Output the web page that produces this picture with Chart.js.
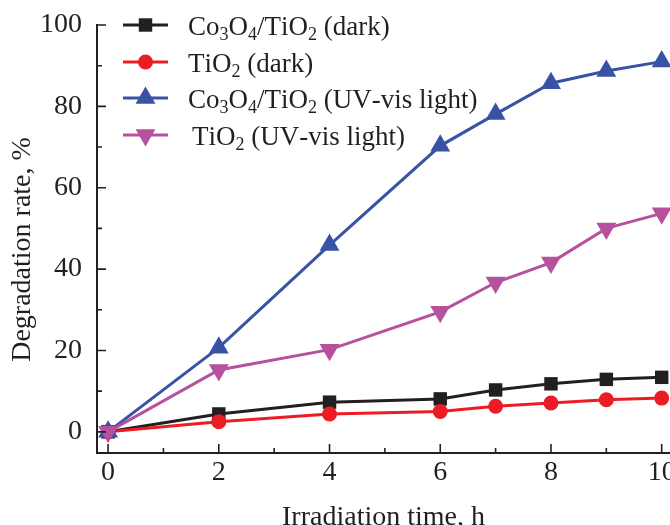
<!DOCTYPE html>
<html><head><meta charset="utf-8">
<script src="https://cdn.jsdelivr.net/npm/chart.js@4/dist/chart.umd.min.js"></script>
<style>html,body{margin:0;padding:0;background:#fff}#wrap{width:670px;height:525px;position:relative;overflow:hidden}</style>
</head><body><div id="wrap"><canvas id="c" width="670" height="525"></canvas></div>
<script>
// ---- data ----
const timeHours  = [0, 2, 4, 6, 7, 8, 9, 10];
const co3o4Dark  = [0, 4.4, 7.3, 8.1, 10.3, 11.8, 12.9, 13.4];
const tio2Dark   = [0, 2.5, 4.4, 5.0, 6.3, 7.1, 7.9, 8.3];
const co3o4Light = [0, 20.7, 45.9, 70.3, 78.1, 85.7, 88.7, 91.0];
const tio2Light  = [0, 15.2, 20.2, 29.5, 36.7, 41.6, 50.0, 53.7];
const seriesLabels = ['Co3O4/TiO2 (dark)', 'TiO2 (dark)', 'Co3O4/TiO2 (UV-vis light)', 'TiO2 (UV-vis light)'];
const xTickValues = [0, 2, 4, 6, 8, 10];
const yTickValues = [0, 20, 40, 60, 80, 100];
const xMinorTicks = [1, 3, 5, 7, 9];
const yMinorTicks = [10, 30, 50, 70, 90];
const xAxisTitle = 'Irradiation time, h';
const yAxisTitle = 'Degradation rate, %';

const FONT = '"Liberation Serif", "Times New Roman", serif';
const colors = ['#231f20', '#ed1c24', '#3953a4', '#b5519d'];
const styles = ['rect', 'circle', 'triangle', 'triangle'];
const radii = [9.5, 7.5, 11.5, 11.5];
const rotations = [0, 0, 0, 180];
const seriesValues = [co3o4Dark, tio2Dark, co3o4Light, tio2Light];

const datasets = seriesValues.map((vals, i) => ({
  label: seriesLabels[i],
  data: timeHours.map((t, k) => ({x: t, y: vals[k]})),
  borderColor: colors[i],
  backgroundColor: colors[i],
  pointBackgroundColor: colors[i],
  pointBorderColor: colors[i],
  pointBorderWidth: 0,
  pointStyle: styles[i],
  pointRadius: radii[i],
  pointRotation: rotations[i],
  borderWidth: 3,
  tension: 0,
  order: 3 - i,
  clip: false
}));

function drawMarker(ctx, style, x, y, r, rot, color) {
  ctx.save();
  ctx.fillStyle = color;
  ctx.translate(x, y);
  ctx.rotate(rot * Math.PI / 180);
  ctx.beginPath();
  if (style === 'rect') {
    const s = r * Math.SQRT1_2;
    ctx.rect(-s, -s, 2 * s, 2 * s);
  } else if (style === 'circle') {
    ctx.arc(0, 0, r, 0, Math.PI * 2);
  } else {
    for (let k = 0; k < 3; k++) {
      const a = k * 2 * Math.PI / 3;
      const px = Math.sin(a) * r, py = -Math.cos(a) * r;
      if (k === 0) ctx.moveTo(px, py); else ctx.lineTo(px, py);
    }
    ctx.closePath();
  }
  ctx.fill();
  ctx.restore();
}

function drawFormula(ctx, text, x, baseline, size, subSize, subDrop) {
  let cx = x;
  for (const ch of text) {
    const isSub = /[0-9]/.test(ch);
    ctx.font = (isSub ? subSize : size) + 'px ' + FONT;
    ctx.fillText(ch, cx, baseline + (isSub ? subDrop : 0));
    cx += ctx.measureText(ch).width;
  }
}

const axisTicksPlugin = {
  id: 'inwardTicks',
  afterDatasetsDraw(chart) {
    const {ctx, chartArea, scales: {x, y}} = chart;
    ctx.save();
    ctx.strokeStyle = '#231f20';
    ctx.lineWidth = 1.6;
    ctx.beginPath();
    xTickValues.forEach(v => { const px = x.getPixelForValue(v); ctx.moveTo(px, chartArea.bottom); ctx.lineTo(px, chartArea.bottom - 9); });
    xMinorTicks.forEach(v => { const px = x.getPixelForValue(v); ctx.moveTo(px, chartArea.bottom); ctx.lineTo(px, chartArea.bottom - 5); });
    yTickValues.forEach(v => { const py = y.getPixelForValue(v); ctx.moveTo(chartArea.left, py); ctx.lineTo(chartArea.left + 9, py); });
    yMinorTicks.forEach(v => { const py = y.getPixelForValue(v); ctx.moveTo(chartArea.left, py); ctx.lineTo(chartArea.left + 5, py); });
    ctx.stroke();
    ctx.restore();
  }
};

const legendPlugin = {
  id: 'formulaLegend',
  afterDraw(chart) {
    const {ctx, chartArea} = chart;
    const x0 = chartArea.left + 26, x1 = chartArea.left + 71, tx = chartArea.left + 91;
    const rowY = [0, 37, 73, 110];
    ctx.save();
    chart.data.datasets.forEach((ds, i) => {
      const yy = chartArea.top + rowY[i];
      ctx.strokeStyle = ds.borderColor;
      ctx.lineWidth = 3;
      ctx.beginPath(); ctx.moveTo(x0, yy); ctx.lineTo(x1, yy); ctx.stroke();
      drawMarker(ctx, ds.pointStyle, (x0 + x1) / 2, yy, ds.pointRadius, ds.pointRotation, ds.pointBackgroundColor);
      ctx.fillStyle = '#231f20';
      ctx.textBaseline = 'alphabetic';
      ctx.textAlign = 'left';
      drawFormula(ctx, ds.label, tx + (i === 3 ? 4 : 0), yy + 10, 27, 18, 5);
    });
    ctx.restore();
  }
};

new Chart(document.getElementById('c'), {
  type: 'line',
  data: {datasets},
  options: {
    responsive: false,
    devicePixelRatio: 1,
    animation: false,
    layout: {autoPadding: false, padding: {top: 25, right: 0, left: 0, bottom: 0}},
    plugins: {legend: {display: false}, tooltip: {enabled: false}},
    scales: {
      x: {
        type: 'linear',
        min: -0.2, max: 10.15,
        afterBuildTicks: s => { s.ticks = xTickValues.map(v => ({value: v})); },
        afterFit: s => { s.height = 72; s.paddingLeft = 0; s.paddingRight = 0; },
        grid: {display: false, drawTicks: false},
        border: {display: true, color: '#231f20', width: 2},
        ticks: {color: '#231f20', font: {family: FONT, size: 28}, padding: 3, maxRotation: 0, autoSkip: false},
        title: {display: true, text: xAxisTitle, color: '#231f20', font: {family: FONT, size: 28}, padding: {top: 0, bottom: -9}}
      },
      y: {
        type: 'linear',
        min: -5.2, max: 100,
        afterBuildTicks: s => { s.ticks = yTickValues.map(v => ({value: v})); },
        afterFit: s => { s.width = 97; s.paddingTop = 0; s.paddingBottom = 0; },
        grid: {display: false, drawTicks: false},
        border: {display: true, color: '#231f20', width: 2},
        ticks: {color: '#231f20', font: {family: FONT, size: 28}, padding: 15},
        title: {display: true, text: yAxisTitle + '   ', color: '#231f20', font: {family: FONT, size: 28}, padding: {top: 6, bottom: 0}}
      }
    }
  },
  plugins: [axisTicksPlugin, legendPlugin]
});
</script></body></html>
